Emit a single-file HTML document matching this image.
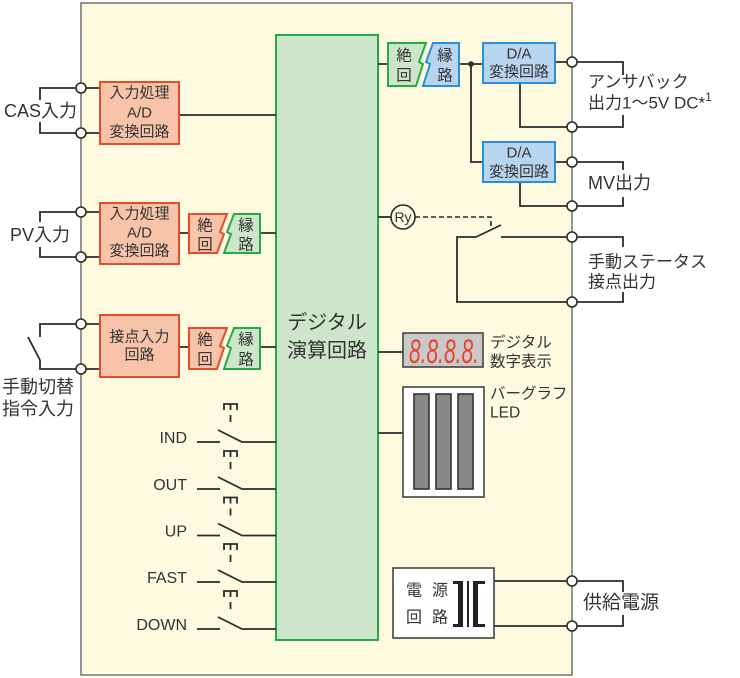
<!DOCTYPE html>
<html><head><meta charset="utf-8">
<style>
html,body{margin:0;padding:0;background:#fff;}
svg{display:block;}
text{font-family:"Liberation Sans","Noto Sans CJK JP",sans-serif;fill:#333;}
</style></head>
<body>
<svg width="740" height="678" viewBox="0 0 740 678" xmlns="http://www.w3.org/2000/svg">
<!-- main box -->
<rect x="81" y="3" width="491" height="672" fill="#fdfae0" stroke="#7a7a7a" stroke-width="1.6"/>
<!-- digital block -->
<rect x="276" y="35" width="102" height="605" fill="#cde5c8" stroke="#22ab47" stroke-width="2"/>
<text x="327" y="323" font-size="20" text-anchor="middle" dominant-baseline="central">デジタル</text>
<text x="327" y="351" font-size="20" text-anchor="middle" dominant-baseline="central">演算回路</text>

<g fill="none" stroke="#2b2b2b" stroke-width="1.8">
  <path d="M81,88 H40 V100 M40,122 V133 H81"/>
  <path d="M81,88 H100 M81,133 H100 M179,115 H276"/>
  <path d="M81,212 H40 V222 M40,247 V257 H81"/>
  <path d="M81,212 H100 M81,257 H100 M179,233 H189 M260,233 H276"/>
  <path d="M81,324 H40 V337 M40,360 V369 H81 M40,360 L28,337"/>
  <path d="M81,324 H100 M81,369 H100 M179,347 H189 M260,347 H276"/>
  <path d="M378,64 H388 M459,64 H483 M471,64 V162 H483"/>
  <path d="M555,62 H572 M520,83 V127 H572 M555,162 H572 M520,182 V206 H572"/>
  <path d="M572,62 H623 V75 M623,115 V127 H572"/>
  <path d="M572,162 H623 V170 M623,197 V206 H572"/>
  <path d="M378,217 H391"/>
  <path d="M476,237 L501,225 M501,237 H572 M476,237 H457 V302 H572"/>
  <path d="M572,237 H623 V247 M623,292 V302 H572"/>
  <path d="M378,352 H403 M378,433 H403"/>
  <path d="M494,581 H572 M494,626 H572 M572,581 H623 V592 M623,615 V626 H572"/>
</g>
<path d="M415,217 H491 V228" fill="none" stroke="#2b2b2b" stroke-width="1.6" stroke-dasharray="5,3"/>
<circle cx="471" cy="64" r="2.8" fill="#2b2b2b"/>

<rect x="100" y="82" width="79" height="62" fill="#f7c4aa" stroke="#e84a2c" stroke-width="2"/>
<text x="139.5" y="93" font-size="15" text-anchor="middle" dominant-baseline="central">入力処理</text>
<text x="139.5" y="113" font-size="15" text-anchor="middle" dominant-baseline="central">A/D</text>
<text x="139.5" y="132" font-size="15" text-anchor="middle" dominant-baseline="central">変換回路</text>
<rect x="100" y="203" width="79" height="61" fill="#f7c4aa" stroke="#e84a2c" stroke-width="2"/>
<text x="139.5" y="214" font-size="15" text-anchor="middle" dominant-baseline="central">入力処理</text>
<text x="139.5" y="233" font-size="15" text-anchor="middle" dominant-baseline="central">A/D</text>
<text x="139.5" y="251" font-size="15" text-anchor="middle" dominant-baseline="central">変換回路</text>
<rect x="100" y="315" width="79" height="62" fill="#f7c4aa" stroke="#e84a2c" stroke-width="2"/>
<text x="139.5" y="337" font-size="15" text-anchor="middle" dominant-baseline="central">接点入力</text>
<text x="139.5" y="355" font-size="15" text-anchor="middle" dominant-baseline="central">回路</text>

<polygon points="189,214 227,214 220,232 224,234 217,253 189,253" fill="#f7c4aa" stroke="#e84a2c" stroke-width="2"/>
<polygon points="234,214 260,214 260,253 224,253 231,234 227,232" fill="#cde5c8" stroke="#22ab47" stroke-width="2"/>
<text x="205" y="226" font-size="15.5" text-anchor="middle" dominant-baseline="central">絶</text>
<text x="205" y="245" font-size="15.5" text-anchor="middle" dominant-baseline="central">回</text>
<text x="246" y="226" font-size="15.5" text-anchor="middle" dominant-baseline="central">縁</text>
<text x="246" y="245" font-size="15.5" text-anchor="middle" dominant-baseline="central">路</text>
<polygon points="189,328 227,328 220,346 224,348 217,369 189,369" fill="#f7c4aa" stroke="#e84a2c" stroke-width="2"/>
<polygon points="234,328 260,328 260,369 224,369 231,348 227,346" fill="#cde5c8" stroke="#22ab47" stroke-width="2"/>
<text x="205" y="340" font-size="15.5" text-anchor="middle" dominant-baseline="central">絶</text>
<text x="205" y="360" font-size="15.5" text-anchor="middle" dominant-baseline="central">回</text>
<text x="246" y="340" font-size="15.5" text-anchor="middle" dominant-baseline="central">縁</text>
<text x="246" y="360" font-size="15.5" text-anchor="middle" dominant-baseline="central">路</text>
<polygon points="388,43 426,43 419,62 423,64 416,86 388,86" fill="#cde5c8" stroke="#22ab47" stroke-width="2"/>
<polygon points="433,43 459,43 459,86 423,86 430,64 426,62" fill="#b8d5ef" stroke="#2a8fd6" stroke-width="2"/>
<text x="404" y="56" font-size="15.5" text-anchor="middle" dominant-baseline="central">絶</text>
<text x="404" y="76" font-size="15.5" text-anchor="middle" dominant-baseline="central">回</text>
<text x="445" y="56" font-size="15.5" text-anchor="middle" dominant-baseline="central">縁</text>
<text x="445" y="76" font-size="15.5" text-anchor="middle" dominant-baseline="central">路</text>

<rect x="483" y="43" width="72" height="40" fill="#b8d5ef" stroke="#2a8fd6" stroke-width="2"/>
<text x="519" y="54" font-size="15" text-anchor="middle" dominant-baseline="central">D/A</text>
<text x="519" y="72" font-size="15" text-anchor="middle" dominant-baseline="central">変換回路</text>
<rect x="483" y="142" width="72" height="40" fill="#b8d5ef" stroke="#2a8fd6" stroke-width="2"/>
<text x="519" y="153" font-size="15" text-anchor="middle" dominant-baseline="central">D/A</text>
<text x="519" y="172" font-size="15" text-anchor="middle" dominant-baseline="central">変換回路</text>

<circle cx="403" cy="217" r="12" fill="#fdfae0" stroke="#2b2b2b" stroke-width="1.6"/>
<text x="403" y="217" font-size="14" text-anchor="middle" dominant-baseline="central">Ry</text>

<rect x="403" y="333" width="80" height="34" fill="#c9c9c9" stroke="#444" stroke-width="1.6"/>
<text x="409" y="352" font-size="34" font-style="italic" textLength="70" lengthAdjust="spacingAndGlyphs" dominant-baseline="central" style="fill:#e8452c">8.8.8.8.</text>
<text x="490" y="343" font-size="15.5" dominant-baseline="central">デジタル</text>
<text x="490" y="362" font-size="15.5" dominant-baseline="central">数字表示</text>

<rect x="403" y="387" width="81" height="110" fill="#fff" stroke="#444" stroke-width="1.6"/>
<g fill="#888" stroke="#333" stroke-width="1.6">
<rect x="414" y="394" width="15" height="95"/>
<rect x="436" y="394" width="15" height="95"/>
<rect x="458" y="394" width="15" height="95"/>
</g>
<text x="490" y="394" font-size="15.5" dominant-baseline="central">バーグラフ</text>
<text x="490" y="413" font-size="15.5" dominant-baseline="central">LED</text>

<rect x="393" y="568" width="101" height="70" fill="#fff" stroke="#444" stroke-width="1.6"/>
<text x="414" y="591" font-size="16" text-anchor="middle" dominant-baseline="central">電</text>
<text x="440" y="591" font-size="16" text-anchor="middle" dominant-baseline="central">源</text>
<text x="414" y="618" font-size="16" text-anchor="middle" dominant-baseline="central">回</text>
<text x="440" y="618" font-size="16" text-anchor="middle" dominant-baseline="central">路</text>
<g fill="#222">
<rect x="453" y="581" width="10" height="3"/>
<rect x="453" y="624" width="10" height="3"/>
<rect x="458" y="581" width="5" height="46"/>
<rect x="467" y="581" width="2" height="46"/>
<rect x="473" y="581" width="5" height="46"/>
<rect x="473" y="581" width="12" height="3"/>
<rect x="473" y="624" width="12" height="3"/>
</g>

<g fill="none" stroke="#2b2b2b" stroke-width="1.8">
<path d="M197,442 H220 M218,430 L242,442 H276 M224,410 V404 H237 V410 M230.5,404 V410"/>
<path d="M197,489 H220 M218,477 L242,489 H276 M224,457 V451 H237 V457 M230.5,451 V457"/>
<path d="M197,535.5 H220 M218,523.5 L242,535.5 H276 M224,503.5 V497.5 H237 V503.5 M230.5,497.5 V503.5"/>
<path d="M197,582 H220 M218,570 L242,582 H276 M224,550 V544 H237 V550 M230.5,544 V550"/>
<path d="M197,629 H220 M218,617 L242,629 H276 M224,597 V591 H237 V597 M230.5,591 V597"/>
<path d="M230.5,415 V422 M230.5,462 V469 M230.5,508.5 V515.5 M230.5,555 V562 M230.5,602 V609"/>
</g>
<g font-size="16" text-anchor="end">
<text x="187" y="438.5" dominant-baseline="central">IND</text>
<text x="187" y="485.5" dominant-baseline="central">OUT</text>
<text x="187" y="532" dominant-baseline="central">UP</text>
<text x="187" y="578.5" dominant-baseline="central">FAST</text>
<text x="187" y="625.5" dominant-baseline="central">DOWN</text>
</g>

<g fill="#fff" stroke="#2b2b2b" stroke-width="1.6">
<circle cx="81" cy="88" r="5"/><circle cx="81" cy="133" r="5"/>
<circle cx="81" cy="212" r="5"/><circle cx="81" cy="257" r="5"/>
<circle cx="81" cy="324" r="5"/><circle cx="81" cy="369" r="5"/>
<circle cx="572" cy="62" r="5"/><circle cx="572" cy="127" r="5"/>
<circle cx="572" cy="162" r="5"/><circle cx="572" cy="206" r="5"/>
<circle cx="572" cy="237" r="5"/><circle cx="572" cy="302" r="5"/>
<circle cx="572" cy="581" r="5"/><circle cx="572" cy="626" r="5"/>
</g>

<text x="4" y="111" font-size="18" dominant-baseline="central">CAS入力</text>
<text x="10" y="235" font-size="18" dominant-baseline="central">PV入力</text>
<text x="2" y="387" font-size="18" dominant-baseline="central">手動切替</text>
<text x="2" y="409" font-size="18" dominant-baseline="central">指令入力</text>
<text x="588" y="82" font-size="17" dominant-baseline="central">アンサバック</text>
<text x="588" y="103" font-size="17" dominant-baseline="central">出力1〜5V DC*<tspan font-size="12" dy="-6">1</tspan></text>
<text x="588" y="183" font-size="18" dominant-baseline="central">MV出力</text>
<text x="588" y="262" font-size="17" dominant-baseline="central">手動ステータス</text>
<text x="588" y="282" font-size="17" dominant-baseline="central">接点出力</text>
<text x="583" y="603" font-size="19" dominant-baseline="central">供給電源</text>
</svg>
</body></html>
